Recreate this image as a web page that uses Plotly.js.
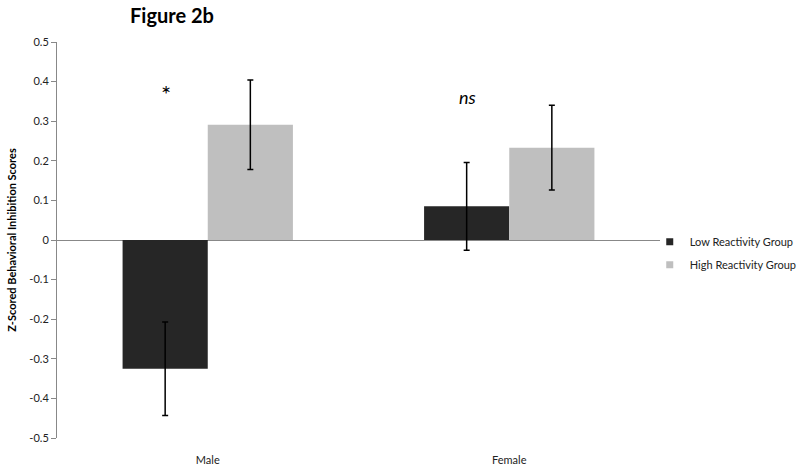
<!DOCTYPE html>
<html>
<head>
<meta charset="utf-8">
<script src="https://cdn.plot.ly/plotly-3.0.1.min.js"></script>
<style>
  html, body { margin: 0; padding: 0; background: #fff; }
  #chart { width: 800px; height: 469px; }
</style>
</head>
<body>
<div id="chart"></div>
<script>
// values
var groups = ['Male', 'Female'];
var lowReactivity = [-0.325, 0.085];
var lowErr = [0.118, 0.111];
var highReactivity = [0.291, 0.233];
var highErr = [0.113, 0.107];

var tickVals = [-0.5, -0.4, -0.3, -0.2, -0.1, 0, 0.1, 0.2, 0.3, 0.4, 0.5];
var tickText = ['-0.5', '-0.4', '-0.3', '-0.2', '-0.1', '0', '0.1', '0.2', '0.3', '0.4', '0.5'];

var sigLabels = ['*', '<i>ns</i>'];
var sigY = [0.37, 0.36];

var seriesNames = ['Low Reactivity Group', 'High Reactivity Group'];
var seriesColors = ['#262626', '#bfbfbf'];

var fontFam = 'Lato, "Open Sans", sans-serif';

var low = {
    x: groups,
    y: lowReactivity,
    type: 'bar',
    name: seriesNames[0],
    showlegend: false,
    marker: { color: seriesColors[0] },
    error_y: { type: 'data', array: lowErr, color: '#000', thickness: 1.5, width: 3 }
};

var high = {
    x: groups,
    y: highReactivity,
    type: 'bar',
    name: seriesNames[1],
    showlegend: false,
    marker: { color: seriesColors[1] },
    error_y: { type: 'data', array: highErr, color: '#000', thickness: 1.5, width: 3 }
};

// small square legend keys like Excel
var keys = seriesNames.map(function (n, i) {
    return {
        x: [groups[0]], y: [null],
        type: 'scatter', mode: 'markers',
        name: n, legendgroup: 'g' + i,
        marker: { symbol: 'square', size: 7, color: seriesColors[i] },
        hoverinfo: 'skip'
    };
});

var notes = groups.map(function (g, i) {
    return {
        x: g, y: sigY[i], xref: 'x', yref: 'y',
        xshift: -42,
        text: sigLabels[i], showarrow: false,
        font: { family: fontFam, size: i === 0 ? 24 : 18, color: '#000' }
    };
});

var layout = {
    width: 800,
    height: 469,
    paper_bgcolor: '#fff',
    plot_bgcolor: '#fff',
    margin: { l: 57, r: 140, t: 42, b: 31, autoexpand: false },
    barmode: 'group',
    bargap: 0.435,
    bargroupgap: 0,
    font: { family: fontFam, size: 11, color: '#222' },
    title: {
        text: '<b>Figure 2b</b>',
        font: { family: fontFam, size: 20, color: '#000' },
        x: 0.215, xanchor: 'center', y: 0.965, yanchor: 'middle'
    },
    xaxis: {
        showline: false,
        showgrid: false,
        ticks: 'outside',
        ticklen: 12,
        tickcolor: 'rgba(0,0,0,0)',
        tickfont: { size: 11, color: '#222' }
    },
    yaxis: {
        range: [-0.5, 0.5],
        tickvals: tickVals,
        ticktext: tickText,
        showgrid: false,
        showline: true,
        linecolor: '#888',
        linewidth: 1,
        ticks: 'outside',
        ticklen: 5,
        tickcolor: '#888',
        zeroline: true,
        zerolinecolor: '#888',
        zerolinewidth: 1,
        tickfont: { size: 11, color: '#222' },
        title: {
            text: '<b>Z-Scored Behavioral Inhibition Scores</b>',
            font: { size: 11, color: '#000' },
            standoff: 10
        }
    },
    legend: {
        x: 0.983, xanchor: 'left',
        y: 0.532, yanchor: 'top',
        bgcolor: 'rgba(0,0,0,0)',
        font: { size: 11, color: '#222' },
        itemwidth: 30,
        tracegroupgap: 4
    },
    annotations: notes
};

Plotly.newPlot('chart', [low, high].concat(keys), layout, { displayModeBar: false, staticPlot: true });
</script>
</body>
</html>
